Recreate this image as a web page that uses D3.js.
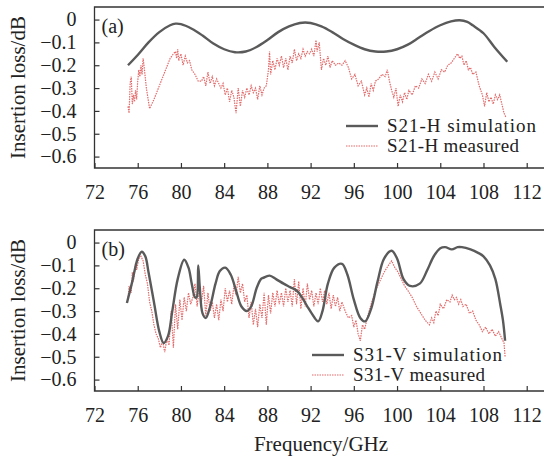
<!DOCTYPE html>
<html>
<head>
<meta charset="utf-8">
<script src="https://cdn.jsdelivr.net/npm/d3@7"></script>
<style>
  body { margin: 0; background: #fff; }
  svg { display: block; font-family: "Liberation Serif", "Times New Roman", serif; }
</style>
</head>
<body>
<script>
// x ticks shared by both panels
const freqTicks = [72, 76, 80, 84, 88, 92, 96, 100, 104, 108, 112];
const lossTicks = [0, -0.1, -0.2, -0.3, -0.4, -0.5, -0.6];

// (a) S21-H simulation [GHz, dB]
const s21Sim = [
  [75.1, -0.2], [76, -0.155], [77, -0.1], [78, -0.055], [79, -0.025], [79.5, -0.018],
  [80, -0.02], [81, -0.04], [82, -0.07], [83, -0.105], [84, -0.13], [85, -0.143],
  [86, -0.14], [87, -0.12], [88, -0.09], [89, -0.055], [90, -0.03], [91, -0.015],
  [91.5, -0.013], [92, -0.015], [93, -0.03], [94, -0.055], [95, -0.085], [96, -0.11],
  [97, -0.13], [98, -0.14], [99, -0.14], [100, -0.13], [101, -0.11], [102, -0.08],
  [103, -0.05], [104, -0.025], [105, -0.008], [105.8, -0.003], [106.5, -0.01],
  [107, -0.025], [108, -0.06], [109, -0.12], [110.2, -0.185]
];

// (a) S21-H measured
const s21Meas = [
  [75.1, -0.38], [75.2, -0.41], [75.3, -0.28], [75.4, -0.25], [75.5, -0.37], [75.6, -0.33],
  [75.7, -0.36], [75.8, -0.31], [75.9, -0.35], [76.0, -0.27], [76.1, -0.22], [76.2, -0.25],
  [76.3, -0.2], [76.4, -0.24], [76.5, -0.17], [76.6, -0.21], [76.8, -0.3], [77.1, -0.39],
  [77.5, -0.35], [78.0, -0.29], [78.5, -0.23], [79.0, -0.17], [79.3, -0.15], [79.5, -0.14],
  [79.6, -0.17], [79.7, -0.13], [79.8, -0.18], [80.0, -0.15], [80.2, -0.2], [80.4, -0.16],
  [80.6, -0.19], [80.8, -0.18], [81.0, -0.22], [81.3, -0.24], [81.6, -0.27], [81.9, -0.27],
  [82.1, -0.25], [82.3, -0.29], [82.5, -0.23], [82.7, -0.28], [82.9, -0.25], [83.1, -0.29],
  [83.3, -0.26], [83.5, -0.28], [83.7, -0.3], [83.9, -0.28], [84.1, -0.33], [84.3, -0.3],
  [84.5, -0.36], [84.7, -0.31], [84.9, -0.34], [85.1, -0.41], [85.3, -0.3], [85.5, -0.38],
  [85.7, -0.31], [85.9, -0.34], [86.1, -0.3], [86.3, -0.33], [86.5, -0.29], [86.7, -0.32],
  [86.9, -0.3], [87.1, -0.35], [87.3, -0.29], [87.5, -0.33], [87.7, -0.3], [87.9, -0.29],
  [88.1, -0.22], [88.2, -0.14], [88.3, -0.24], [88.5, -0.18], [88.7, -0.22], [88.9, -0.17],
  [89.1, -0.2], [89.3, -0.16], [89.5, -0.21], [89.7, -0.17], [89.9, -0.22], [90.1, -0.16],
  [90.3, -0.19], [90.5, -0.13], [90.7, -0.18], [90.9, -0.15], [91.1, -0.17], [91.3, -0.13],
  [91.5, -0.16], [91.7, -0.14], [91.9, -0.15], [92.1, -0.13], [92.3, -0.16], [92.5, -0.09],
  [92.6, -0.14], [92.8, -0.1], [93.0, -0.22], [93.2, -0.17], [93.4, -0.2], [93.6, -0.16],
  [93.8, -0.21], [94.0, -0.18], [94.3, -0.2], [94.6, -0.19], [94.9, -0.2], [95.2, -0.18],
  [95.5, -0.21], [95.8, -0.26], [96.1, -0.24], [96.4, -0.29], [96.7, -0.27], [97.0, -0.33],
  [97.2, -0.3], [97.4, -0.34], [97.6, -0.28], [97.8, -0.31], [98.0, -0.27], [98.3, -0.26],
  [98.6, -0.24], [98.9, -0.25], [99.1, -0.22], [99.3, -0.27], [99.5, -0.31], [99.7, -0.34],
  [99.9, -0.3], [100.1, -0.38], [100.3, -0.33], [100.5, -0.36], [100.7, -0.32], [100.9, -0.35],
  [101.1, -0.31], [101.4, -0.33], [101.7, -0.29], [102.0, -0.3], [102.3, -0.26], [102.6, -0.28],
  [102.9, -0.24], [103.2, -0.27], [103.5, -0.23], [103.8, -0.26], [104.1, -0.22], [104.4, -0.23],
  [104.7, -0.2], [105.0, -0.19], [105.3, -0.17], [105.6, -0.15], [105.8, -0.17], [106.0, -0.16],
  [106.2, -0.2], [106.4, -0.18], [106.6, -0.22], [106.8, -0.21], [107.0, -0.24], [107.3, -0.23],
  [107.6, -0.29], [107.9, -0.33], [108.1, -0.38], [108.3, -0.32], [108.5, -0.36], [108.7, -0.34],
  [108.9, -0.37], [109.1, -0.33], [109.3, -0.35], [109.5, -0.33], [109.7, -0.37], [109.9, -0.41],
  [110.1, -0.43]
];

// (b) S31-V simulation
const s31Sim = [
  [75.0, -0.265], [75.5, -0.17], [76.0, -0.07], [76.37, -0.04], [76.7, -0.06], [77.0, -0.13],
  [77.5, -0.26], [78.0, -0.39], [78.4, -0.44], [78.8, -0.41], [79.2, -0.3], [79.7, -0.16],
  [80.3, -0.075], [80.7, -0.11], [81.0, -0.18], [81.3, -0.24], [81.45, -0.24], [81.6, -0.1],
  [81.75, -0.2], [82.0, -0.31], [82.3, -0.33], [82.7, -0.28], [83.2, -0.18], [83.6, -0.125],
  [84.1, -0.11], [84.6, -0.14], [85.1, -0.21], [85.6, -0.28], [86.1, -0.3], [86.5, -0.28],
  [87.0, -0.2], [87.4, -0.16], [87.6, -0.155], [88.2, -0.145], [88.8, -0.16], [89.5, -0.18],
  [90.1, -0.195], [90.7, -0.21], [91.2, -0.24], [91.7, -0.28], [92.1, -0.31], [92.7, -0.345],
  [93.1, -0.3], [93.6, -0.18], [94.2, -0.11], [94.9, -0.093], [95.4, -0.14], [96.0, -0.25],
  [96.6, -0.33], [97.05, -0.345], [97.6, -0.29], [98.2, -0.17], [98.8, -0.07], [99.5, -0.036],
  [100.0, -0.07], [100.6, -0.16], [101.2, -0.19], [102.1, -0.18], [102.8, -0.12], [103.4, -0.06],
  [104.0, -0.025], [104.45, -0.02], [105.07, -0.03], [105.6, -0.02], [106.0, -0.02], [106.8, -0.03],
  [107.5, -0.045], [108.0, -0.06], [108.6, -0.1], [109.1, -0.16], [109.55, -0.27], [109.8, -0.34],
  [110.0, -0.43]
];

// (b) S31-V measured
const s31Meas = [
  [75.1, -0.25], [75.2, -0.19], [75.4, -0.22], [75.5, -0.13], [75.6, -0.17], [75.8, -0.09],
  [75.9, -0.12], [76.1, -0.07], [76.3, -0.06], [76.5, -0.08], [76.7, -0.14], [76.9, -0.18],
  [77.1, -0.26], [77.3, -0.3], [77.5, -0.36], [77.7, -0.4], [77.9, -0.42], [78.1, -0.46],
  [78.3, -0.43], [78.5, -0.48], [78.7, -0.42], [78.9, -0.45], [79.1, -0.3], [79.3, -0.46],
  [79.5, -0.27], [79.7, -0.38], [79.9, -0.25], [80.1, -0.34], [80.3, -0.24], [80.5, -0.3],
  [80.7, -0.22], [80.9, -0.27], [81.1, -0.24], [81.3, -0.18], [81.5, -0.28], [81.7, -0.2],
  [81.9, -0.26], [82.1, -0.19], [82.3, -0.32], [82.5, -0.22], [82.7, -0.3], [82.9, -0.26],
  [83.1, -0.33], [83.3, -0.27], [83.5, -0.34], [83.7, -0.25], [83.9, -0.3], [84.1, -0.2],
  [84.3, -0.26], [84.5, -0.21], [84.7, -0.27], [84.9, -0.19], [85.1, -0.23], [85.3, -0.15],
  [85.5, -0.22], [85.7, -0.18], [85.9, -0.26], [86.1, -0.23], [86.3, -0.33], [86.5, -0.26],
  [86.7, -0.36], [86.9, -0.29], [87.1, -0.37], [87.3, -0.27], [87.5, -0.33], [87.7, -0.22],
  [87.9, -0.36], [88.1, -0.23], [88.3, -0.31], [88.5, -0.22], [88.7, -0.28], [88.9, -0.21],
  [89.1, -0.27], [89.3, -0.22], [89.5, -0.28], [89.7, -0.2], [89.9, -0.26], [90.1, -0.21],
  [90.3, -0.28], [90.5, -0.16], [90.7, -0.27], [90.9, -0.17], [91.1, -0.29], [91.3, -0.2],
  [91.5, -0.28], [91.7, -0.18], [91.9, -0.25], [92.1, -0.21], [92.3, -0.28], [92.5, -0.22],
  [92.7, -0.27], [92.9, -0.2], [93.1, -0.26], [93.3, -0.21], [93.5, -0.27], [93.7, -0.22],
  [93.9, -0.29], [94.1, -0.23], [94.3, -0.28], [94.5, -0.24], [94.7, -0.3], [94.9, -0.26],
  [95.2, -0.3], [95.5, -0.33], [95.8, -0.32], [96.0, -0.37], [96.2, -0.34], [96.4, -0.4],
  [96.6, -0.43], [96.8, -0.36], [97.0, -0.38], [97.3, -0.32], [97.6, -0.27], [98.0, -0.21],
  [98.4, -0.17], [98.8, -0.13], [99.2, -0.1], [99.5, -0.08], [99.8, -0.11], [100.1, -0.13],
  [100.4, -0.16], [100.7, -0.19], [101.0, -0.21], [101.4, -0.24], [101.8, -0.28], [102.2, -0.31],
  [102.6, -0.34], [103.0, -0.36], [103.2, -0.33], [103.4, -0.35], [103.6, -0.3], [103.8, -0.32],
  [104.0, -0.27], [104.3, -0.29], [104.6, -0.25], [104.9, -0.26], [105.1, -0.23], [105.3, -0.25],
  [105.5, -0.24], [105.7, -0.27], [105.9, -0.25], [106.1, -0.28], [106.4, -0.27], [106.7, -0.31],
  [107.0, -0.3], [107.3, -0.34], [107.6, -0.36], [107.9, -0.39], [108.2, -0.37], [108.5, -0.4],
  [108.8, -0.38], [109.1, -0.41], [109.4, -0.39], [109.7, -0.42], [109.9, -0.44], [110.0, -0.5]
];

const W = 544, H = 458;
const svg = d3.select("body").append("svg").attr("width", W).attr("height", H);

const x = d3.scaleLinear().domain([72, 113.6]).range([94.5, 544]);
const fmt = d => (d === 0 ? "0" : d3.format(".1f")(d));

const simColor = "#5a5a5a";
const measColor = "#e36a6a";

function panel(top, bottom, label, sim, meas, legendX, legendY, names) {
  const y = d3.scaleLinear().domain([-0.65, 0.055]).range([bottom, top]);
  const g = svg.append("g");

  // frame: top, left, bottom
  g.append("path")
    .attr("d", `M${W},${top}H${x.range()[0]}V${bottom}H${W}`)
    .attr("fill", "none")
    .attr("stroke", "#333")
    .attr("stroke-width", 1.3);

  const xAxis = g.append("g")
    .attr("transform", `translate(0,${bottom})`)
    .call(d3.axisBottom(x).tickValues(freqTicks).tickSize(-5).tickPadding(17));
  const yAxis = g.append("g")
    .attr("transform", `translate(${x.range()[0]},0)`)
    .call(d3.axisLeft(y).tickValues(lossTicks).tickFormat(fmt).tickSize(-5).tickPadding(18));

  [xAxis, yAxis].forEach(a => {
    a.select(".domain").remove();
    a.selectAll("line").attr("stroke", "#333").attr("stroke-width", 1.2);
    a.selectAll("text")
      .attr("fill", "#222")
      .style("font-family", "Liberation Serif, serif")
      .style("font-size", "20px");
  });

  g.append("text")
    .attr("transform", `translate(25,${(top + bottom) / 2}) rotate(-90)`)
    .attr("text-anchor", "middle")
    .attr("fill", "#222")
    .style("font-size", "21px")
    .text("Insertion loss/dB");

  g.append("text")
    .attr("x", x.range()[0] + 7)
    .attr("y", top + 26)
    .attr("fill", "#222")
    .style("font-size", "20px")
    .text(label);

  const line = d3.line().x(d => x(d[0])).y(d => y(d[1]));

  g.append("path")
    .datum(meas)
    .attr("d", line)
    .attr("fill", "none")
    .attr("stroke", measColor)
    .attr("stroke-width", 1.2)
    .attr("stroke-dasharray", "1.5,1");

  g.append("path")
    .datum(sim)
    .attr("d", line.curve(d3.curveCatmullRom))
    .attr("fill", "none")
    .attr("stroke", simColor)
    .attr("stroke-width", 2.4);

  // legend
  const rows = [
    { name: names[0], color: simColor, width: 2.4, dash: null },
    { name: names[1], color: measColor, width: 1.2, dash: "1.5,1" }
  ];
  rows.forEach((r, i) => {
    const ly = legendY + i * 20;
    g.append("line")
      .attr("x1", legendX).attr("x2", legendX + 32)
      .attr("y1", ly).attr("y2", ly)
      .attr("stroke", r.color)
      .attr("stroke-width", r.width)
      .attr("stroke-dasharray", r.dash);
    g.append("text")
      .attr("x", legendX + 41)
      .attr("y", ly + 6)
      .attr("fill", "#222")
      .style("font-size", "19px")
      .attr("textLength", i === 0 ? 149 : 132)
      .text(r.name);
  });
}

panel(7, 168, "(a)", s21Sim, s21Meas, 346, 126, ["S21-H simulation", "S21-H measured"]);
panel(230, 391, "(b)", s31Sim, s31Meas, 312, 355, ["S31-V simulation", "S31-V measured"]);

svg.append("text")
  .attr("x", 321)
  .attr("y", 451)
  .attr("text-anchor", "middle")
  .attr("fill", "#222")
  .style("font-size", "21px")
  .text("Frequency/GHz");
</script>
</body>
</html>
